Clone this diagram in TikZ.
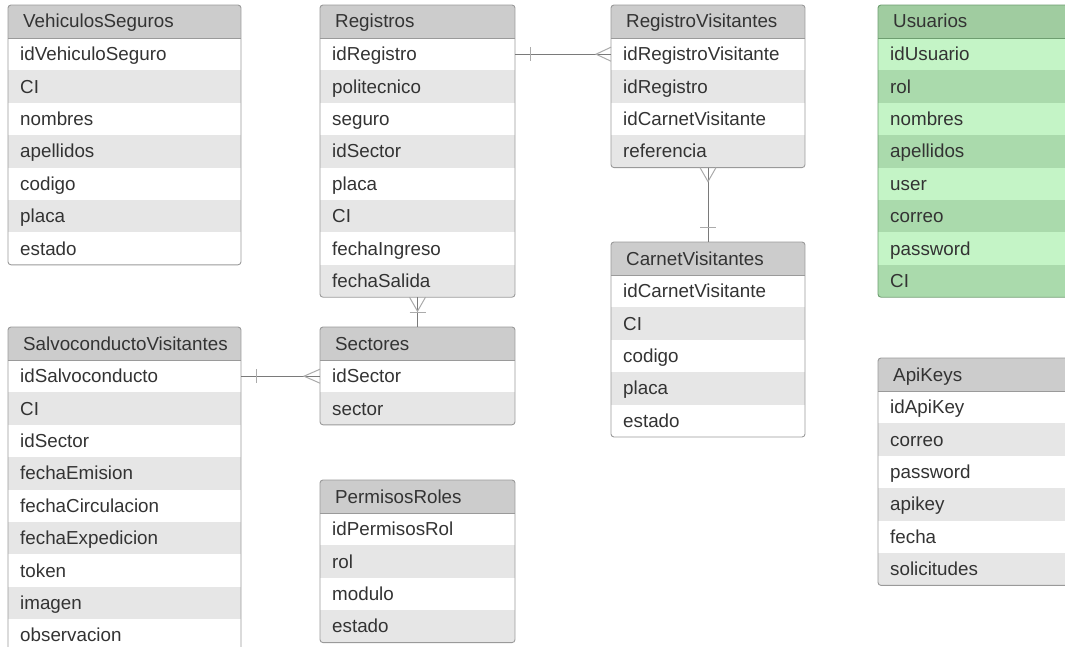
\documentclass[tikz,border=0pt]{standalone}
\usepackage{fontspec}
\setmainfont{Liberation Sans}
\usetikzlibrary{calc}
\definecolor{nhdr}{HTML}{CCCCCC}
\definecolor{nrow1}{HTML}{FFFFFF}
\definecolor{nrow0}{HTML}{E6E6E6}
\definecolor{nborder}{HTML}{9A9A9A}
\definecolor{ghdr}{HTML}{A0CCA0}
\definecolor{grow1}{HTML}{C4F4C6}
\definecolor{grow0}{HTML}{AADAAC}
\definecolor{gborder}{HTML}{6E9E70}
\definecolor{txt}{HTML}{333333}
\definecolor{conncol}{HTML}{7A7A7A}
\definecolor{markcol}{HTML}{ABABAB}
\tikzset{
  hdrtext/.style={inner sep=0pt, text height=13pt, text depth=0pt, text=txt, font=\fontsize{18.8}{20}\selectfont},
  rowtext/.style={inner sep=0pt, text height=13pt, text depth=0pt, text=txt, font=\fontsize{18.8}{20}\selectfont},
  connline/.style={draw=conncol, line width=1pt},
  markline/.style={draw=markcol, line width=1pt},
}
\newcommand\ertable[8]{%
  \begin{scope}
    \clip[rounded corners=3pt] (#2,#3) rectangle ++(#4,33+#5*32.4);
    \fill[#8hdr] (#2,#3) rectangle ++(#4,33);
    \node[hdrtext, anchor=west] (#1) at (#2+15,#3+16.5) {#6};
    \foreach \r [count=\i] in {#7} {
      \pgfmathtruncatemacro\m{mod(\i,2)}
      \fill[#8row\m] (#2,#3+33+\i*32.4-32.4) rectangle ++(#4,32.4);
      \node[rowtext, anchor=west] (#1-\i) at (#2+12,#3+33+\i*32.4-16.2) {\r};
      \coordinate (#1-\i-w) at (#2,#3+33+\i*32.4-16.2);
      \coordinate (#1-\i-e) at (#2+#4,#3+33+\i*32.4-16.2);
    }
  \end{scope}
  \coordinate (#1-n) at (#2+#4/2,#3);
  \coordinate (#1-s) at (#2+#4/2,#3+33+#5*32.4);
  \draw[#8border, line width=0.9pt] (#2,#3+33) -- ++(#4,0);
  \draw[#8border, line width=0.9pt, rounded corners=3pt] (#2,#3) rectangle ++(#4,33+#5*32.4);
}
\begin{document}
\begin{tikzpicture}[x=1pt,y=-1pt]
\clip (0,0) rectangle (1065,647);
\fill[white] (0,0) rectangle (1065,647);

\ertable{vs}{8}{5}{233}{7}{VehiculosSeguros}{idVehiculoSeguro,CI,nombres,apellidos,codigo,placa,estado}{n}
\ertable{reg}{320}{5}{195}{8}{Registros}{idRegistro,politecnico,seguro,idSector,placa,CI,fechaIngreso,fechaSalida}{n}
\ertable{rv}{611}{5}{194}{4}{RegistroVisitantes}{idRegistroVisitante,idRegistro,idCarnetVisitante,referencia}{n}
\ertable{us}{878}{5}{200}{8}{Usuarios}{idUsuario,rol,nombres,apellidos,user,correo,password,CI}{g}
\ertable{cv}{611}{242}{194}{5}{CarnetVisitantes}{idCarnetVisitante,CI,codigo,placa,estado}{n}
\ertable{sv}{8}{327}{233}{9}{SalvoconductoVisitantes}{idSalvoconducto,CI,idSector,fechaEmision,fechaCirculacion,fechaExpedicion,token,imagen,observacion}{n}
\ertable{sec}{320}{327}{195}{2}{Sectores}{idSector,sector}{n}
\ertable{pr}{320}{480}{195}{4}{PermisosRoles}{idPermisosRol,rol,modulo,estado}{n}
\ertable{ak}{878}{358}{200}{6}{ApiKeys}{idApiKey,correo,password,apikey,fecha,solicitudes}{n}

% Registros -- RegistroVisitantes
\draw[connline] (reg-1-e) -- (rv-1-w);
\draw[markline] ($(reg-1-e)+(15,-7)$) -- ($(reg-1-e)+(15,7)$);
\draw[markline] ($(rv-1-w)+(0,-7)$) -- ($(rv-1-w)+(-15,0)$) -- ($(rv-1-w)+(0,7)$);

% RegistroVisitantes -- CarnetVisitantes
\draw[connline] (rv-s) -- (cv-n);
\draw[markline] ($(rv-s)+(-8,0)$) -- ($(rv-s)+(0,14)$) -- ($(rv-s)+(8,0)$);
\draw[markline] ($(cv-n)+(-8,-15)$) -- ($(cv-n)+(8,-15)$);

% Registros -- Sectores
\draw[connline] (reg-s) -- (sec-n);
\draw[markline] ($(reg-s)+(-8,0)$) -- ($(reg-s)+(0,14)$) -- ($(reg-s)+(8,0)$);
\draw[markline] ($(sec-n)+(-8,-15)$) -- ($(sec-n)+(8,-15)$);

% SalvoconductoVisitantes -- Sectores
\draw[connline] (sv-1-e) -- (sec-1-w);
\draw[markline] ($(sv-1-e)+(15,-7)$) -- ($(sv-1-e)+(15,7)$);
\draw[markline] ($(sec-1-w)+(0,-7)$) -- ($(sec-1-w)+(-16,0)$) -- ($(sec-1-w)+(0,7)$);
\end{tikzpicture}
\end{document}
